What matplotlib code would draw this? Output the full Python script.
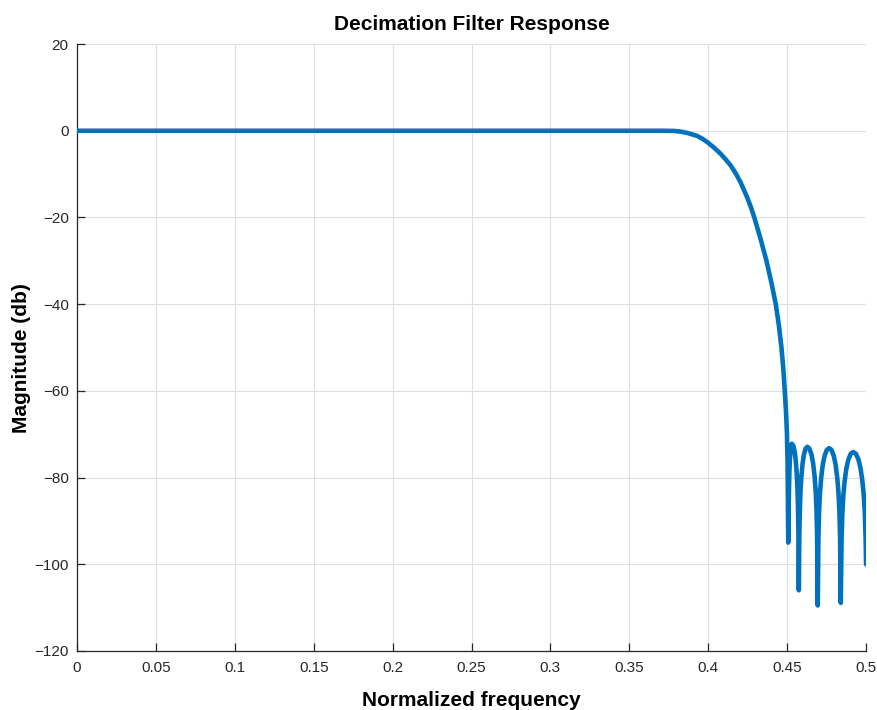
import matplotlib
matplotlib.use("Agg")
import matplotlib.pyplot as plt

# Data
# passband and transition band
freq_main = [0.0, 0.05, 0.1, 0.15, 0.2, 0.25, 0.3, 0.35, 0.365, 0.372, 0.3782, 0.3825,
             0.3867, 0.393, 0.3965, 0.4, 0.404, 0.4078, 0.411, 0.4142, 0.4175, 0.4205,
             0.4247, 0.4270, 0.4292, 0.4332, 0.4369, 0.4400, 0.4428, 0.4448, 0.4464,
             0.4476, 0.4485, 0.4493, 0.4499, 0.4503, 0.4507]
mag_main = [0.0, 0.0, 0.0, 0.0, 0.0, 0.0, 0.0, 0.0, 0.0, 0.0, -0.05, -0.2,
            -0.5, -1.2, -1.9, -2.8, -4.0, -5.3, -6.6, -8.0, -9.9, -11.9,
            -15.4, -17.6, -20.0, -25.0, -30.0, -35.0, -40.0, -45.0, -50.0,
            -55.0, -60.0, -65.0, -70.0, -77.0, -95.0]
# stopband side lobes
freq_stop = [0.45098, 0.4512, 0.45139, 0.45171, 0.45208, 0.45254, 0.4530,
             0.45388, 0.45476, 0.45546, 0.45608, 0.45652, 0.45687, 0.45714, 0.4574,
             0.45772, 0.45805, 0.45848, 0.45902, 0.45978, 0.46064, 0.46172, 0.4628,
             0.46412, 0.46544, 0.46650, 0.46742, 0.46808, 0.46861, 0.46900, 0.4694,
             0.46983, 0.47026, 0.47084, 0.47156, 0.47257, 0.47372, 0.47516, 0.4766,
             0.47808, 0.47956, 0.48074, 0.48178, 0.48252, 0.48311, 0.48356, 0.4840,
             0.48447, 0.48495, 0.48558, 0.48637, 0.48748, 0.48874, 0.49032, 0.4919,
             0.49357, 0.49525, 0.49659, 0.49776, 0.49860, 0.49927, 0.49977, 0.5]
mag_stop = [-86.7, -82.4, -79.1, -76.1, -74.0, -72.6, -72.2,
            -72.6, -74.0, -76.1, -79.1, -82.4, -86.7, -92.7, -106.0,
            -93.4, -87.4, -83.1, -79.8, -76.8, -74.7, -73.3, -72.9,
            -73.3, -74.7, -76.8, -79.8, -83.1, -87.4, -93.4, -109.5,
            -93.7, -87.7, -83.4, -80.1, -77.1, -75.0, -73.6, -73.2,
            -73.6, -75.0, -77.1, -80.1, -83.4, -87.7, -93.7, -108.9,
            -94.6, -88.6, -84.3, -81.0, -78.0, -75.9, -74.5, -74.1,
            -74.5, -75.9, -78.0, -81.0, -84.3, -88.6, -94.6, -100.0]

xticks = [0, 0.05, 0.1, 0.15, 0.2, 0.25, 0.3, 0.35, 0.4, 0.45, 0.5]
xticklabels = ["0", "0.05", "0.1", "0.15", "0.2", "0.25", "0.3", "0.35", "0.4", "0.45", "0.5"]
yticks = [-120, -100, -80, -60, -40, -20, 0, 20]
yticklabels = ["\u2212120", "\u2212100", "\u221280", "\u221260", "\u221240", "\u221220", "0", "20"]

title = "Decimation Filter Response"
xlabel = "Normalized frequency"
ylabel = "Magnitude (db)"

plt.rcParams['font.family'] = ['Liberation Sans', 'DejaVu Sans']

fig = plt.figure(figsize=(8.77, 7.10), dpi=100)
ax = fig.add_axes([0.0878, 0.0831, 0.8997, 0.8549])

freq = freq_main + freq_stop
mag_db = mag_main + mag_stop
ax.plot(freq, mag_db, color='#0072BD', linewidth=3.3, solid_joinstyle='round',
        solid_capstyle='round', zorder=3)

ax.set_xlim(0, 0.5)
ax.set_ylim(-120, 20)
ax.set_xticks(xticks)
ax.set_xticklabels(xticklabels)
ax.set_yticks(yticks)
ax.set_yticklabels(yticklabels)

ax.grid(True, color='#e0e0e0', linewidth=0.8)
ax.set_axisbelow(True)
for s in ['top', 'right']:
    ax.spines[s].set_visible(False)
for s in ['left', 'bottom']:
    ax.spines[s].set_color('#262626')
    ax.spines[s].set_linewidth(0.9)

ax.tick_params(direction='in', length=6, width=0.9, colors='#262626',
               labelsize=11, labelcolor='#262626')
ax.tick_params(axis='x', pad=7)
ax.tick_params(axis='y', pad=6)

ax.set_title(title, fontsize=15, fontweight='bold', pad=10)
ax.set_xlabel(xlabel, fontsize=15, fontweight='bold', labelpad=12)
ax.set_ylabel(ylabel, fontsize=15, fontweight='bold')
ax.yaxis.set_label_coords(-0.058, 0.483)

fig.savefig('out.png', dpi=100)
